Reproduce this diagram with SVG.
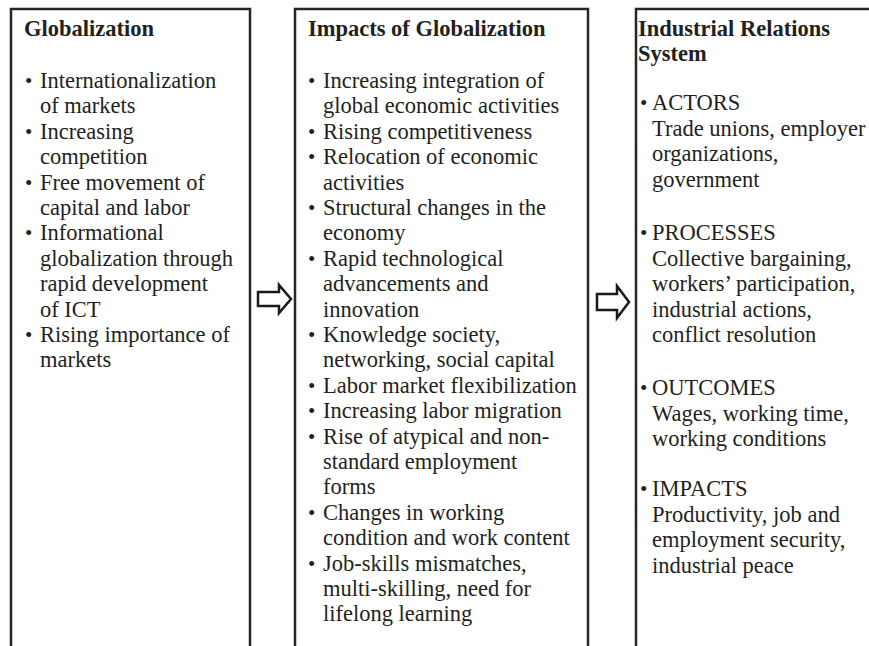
<svg xmlns="http://www.w3.org/2000/svg" width="869" height="646" viewBox="0 0 869 646">
  <style>
    .box { fill: #ffffff; stroke: #262626; stroke-width: 2.5; }
    .t { font-family: "Liberation Serif", "Times New Roman", serif; font-size: 22.5px; fill: #231f20; }
    .h { font-family: "Liberation Serif", "Times New Roman", serif; font-size: 22.5px; font-weight: bold; fill: #231f20; }
    .b { font-family: "Liberation Serif", "Times New Roman", serif; font-size: 21px; fill: #231f20; }
    .arrow { fill: #ffffff; stroke: #1a1a1a; stroke-width: 2.5; stroke-linejoin: miter; }
  </style>
  <rect width="869" height="646" fill="#ffffff"/>

  <!-- Column 1 -->
  <g id="globalization">
    <rect class="box" x="11" y="9" width="239" height="700"/>
    <text class="h" x="24" y="36">Globalization</text>
    <text class="b" x="25" y="88">•</text>
    <text class="t" x="40" y="88">Internationalization</text>
    <text class="t" x="40" y="113.4">of markets</text>
    <text class="b" x="25" y="138.8">•</text>
    <text class="t" x="40" y="138.8">Increasing</text>
    <text class="t" x="40" y="164.2">competition</text>
    <text class="b" x="25" y="189.6">•</text>
    <text class="t" x="40" y="189.6">Free movement of</text>
    <text class="t" x="40" y="215">capital and labor</text>
    <text class="b" x="25" y="240.4">•</text>
    <text class="t" x="40" y="240.4">Informational</text>
    <text class="t" x="40" y="265.8">globalization through</text>
    <text class="t" x="40" y="291.2">rapid development</text>
    <text class="t" x="40" y="316.6">of ICT</text>
    <text class="b" x="25" y="342">•</text>
    <text class="t" x="40" y="342">Rising importance of</text>
    <text class="t" x="40" y="367.4">markets</text>
  </g>

  <!-- Column 2 -->
  <g id="impacts">
    <rect class="box" x="295" y="9" width="293" height="700"/>
    <text class="h" x="308" y="36">Impacts of Globalization</text>
    <text class="b" x="308" y="88">•</text>
    <text class="t" x="323" y="88">Increasing integration of</text>
    <text class="t" x="323" y="113.4">global economic activities</text>
    <text class="b" x="308" y="138.8">•</text>
    <text class="t" x="323" y="138.8">Rising competitiveness</text>
    <text class="b" x="308" y="164.2">•</text>
    <text class="t" x="323" y="164.2">Relocation of economic</text>
    <text class="t" x="323" y="189.6">activities</text>
    <text class="b" x="308" y="215">•</text>
    <text class="t" x="323" y="215">Structural changes in the</text>
    <text class="t" x="323" y="240.4">economy</text>
    <text class="b" x="308" y="265.8">•</text>
    <text class="t" x="323" y="265.8">Rapid technological</text>
    <text class="t" x="323" y="291.2">advancements and</text>
    <text class="t" x="323" y="316.6">innovation</text>
    <text class="b" x="308" y="342">•</text>
    <text class="t" x="323" y="342">Knowledge society,</text>
    <text class="t" x="323" y="367.4">networking, social capital</text>
    <text class="b" x="308" y="392.8">•</text>
    <text class="t" x="323" y="392.8">Labor market flexibilization</text>
    <text class="b" x="308" y="418.2">•</text>
    <text class="t" x="323" y="418.2">Increasing labor migration</text>
    <text class="b" x="308" y="443.6">•</text>
    <text class="t" x="323" y="443.6">Rise of atypical and non-</text>
    <text class="t" x="323" y="469">standard employment</text>
    <text class="t" x="323" y="494.4">forms</text>
    <text class="b" x="308" y="519.8">•</text>
    <text class="t" x="323" y="519.8">Changes in working</text>
    <text class="t" x="323" y="545.2">condition and work content</text>
    <text class="b" x="308" y="570.6">•</text>
    <text class="t" x="323" y="570.6">Job-skills mismatches,</text>
    <text class="t" x="323" y="596">multi-skilling, need for</text>
    <text class="t" x="323" y="621.4">lifelong learning</text>
  </g>

  <!-- Column 3 -->
  <g id="industrial-relations">
    <rect class="box" x="636" y="9" width="260" height="700"/>
    <text class="h" x="638" y="36">Industrial Relations</text>
    <text class="h" x="638" y="61">System</text>
    <text class="b" x="640" y="110">•</text>
    <text class="t" x="652" y="110">ACTORS</text>
    <text class="t" x="652" y="135.5">Trade unions, employer</text>
    <text class="t" x="652" y="161">organizations,</text>
    <text class="t" x="652" y="186.5">government</text>
    <text class="b" x="640" y="240">•</text>
    <text class="t" x="652" y="240">PROCESSES</text>
    <text class="t" x="652" y="265.5">Collective bargaining,</text>
    <text class="t" x="652" y="291">workers’ participation,</text>
    <text class="t" x="652" y="316.5">industrial actions,</text>
    <text class="t" x="652" y="342">conflict resolution</text>
    <text class="b" x="640" y="395">•</text>
    <text class="t" x="652" y="395">OUTCOMES</text>
    <text class="t" x="652" y="420.5">Wages, working time,</text>
    <text class="t" x="652" y="446">working conditions</text>
    <text class="b" x="640" y="496">•</text>
    <text class="t" x="652" y="496">IMPACTS</text>
    <text class="t" x="652" y="521.5">Productivity, job and</text>
    <text class="t" x="652" y="547">employment security,</text>
    <text class="t" x="652" y="572.5">industrial peace</text>
  </g>

  <!-- Connectors: hollow block arrows -->
  <g id="connectors">
    <path class="arrow" d="M258,292 H279 V285 L291,299 L279,313 V306 H258 Z"/>
    <path class="arrow" d="M597,294 H617 V286 L629,302 L617,318 V310 H597 Z"/>
  </g>
</svg>
